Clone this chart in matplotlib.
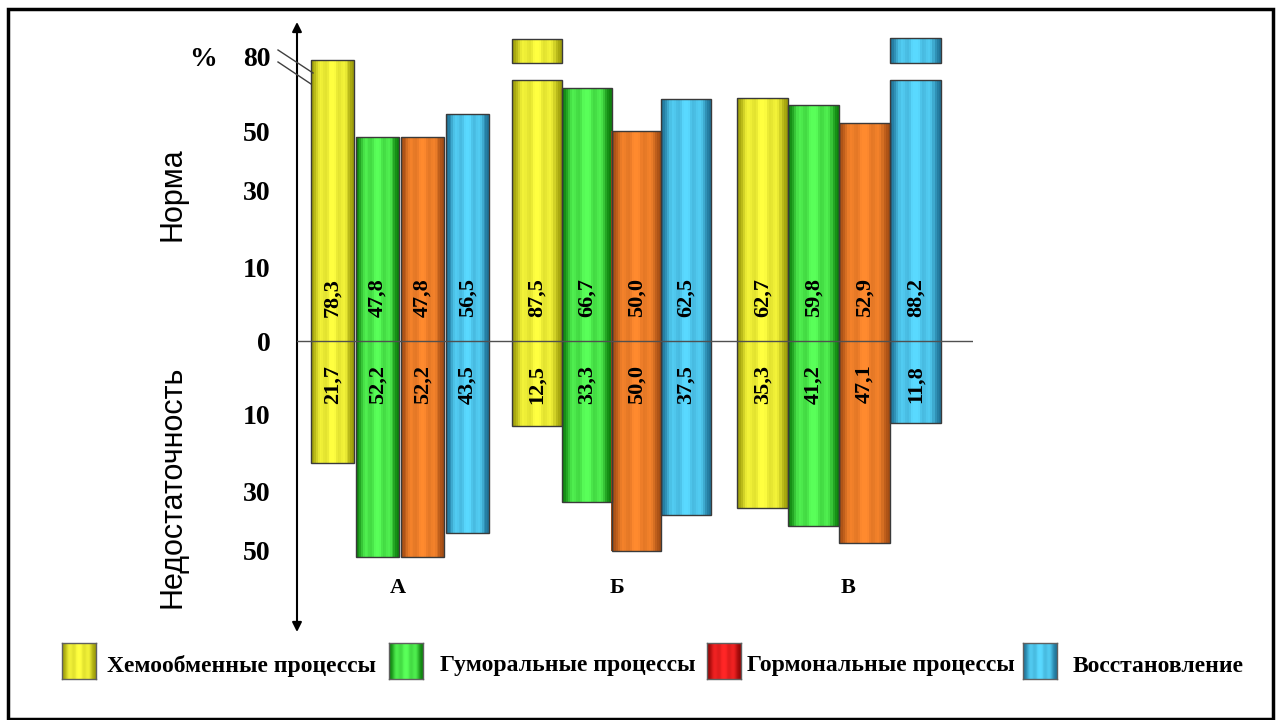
# encoding="utf-8"
# Диаграмма: соотношение нормы и недостаточности по группам А, Б, В

import matplotlib
matplotlib.use("Agg")
import matplotlib.pyplot as plt
import matplotlib.patches as mpatches
from matplotlib.lines import Line2D
import numpy as np

groups = ["А", "Б", "В"]
series = ["Хемообменные процессы", "Гуморальные процессы",
          "Гормональные процессы", "Восстановление"]
# доля "нормы", % (строки - группы, столбцы - процессы)
norma = [
    [78.3, 47.8, 47.8, 56.5],
    [87.5, 66.7, 50.0, 62.5],
    [62.7, 59.8, 52.9, 88.2],
]
# доля "недостаточности", %
nedost = [
    [21.7, 52.2, 52.2, 43.5],
    [12.5, 33.3, 50.0, 37.5],
    [35.3, 41.2, 47.1, 11.8],
]
tick_values = [-50, -30, -10, 0, 10, 30, 50, 80]

W, H = 1277, 720

# цвета "цилиндров": тёмный край / светлая середина
bar_colors = [
    ((0.55, 0.55, 0.00), (1.00, 1.00, 0.25)),
    ((0.00, 0.42, 0.00), (0.35, 1.00, 0.35)),
    ((0.58, 0.26, 0.06), (1.00, 0.54, 0.18)),
    ((0.08, 0.38, 0.52), (0.35, 0.85, 1.00)),
]
legend_colors = [
    bar_colors[0], bar_colors[1],
    ((0.50, 0.00, 0.00), (1.00, 0.15, 0.15)),
    bar_colors[3],
]

# разрыв для столбцов выше 80
BREAK_AT = 80
BREAK_LO, BREAK_HI = 70, 77

P = 0.65


def fwd(v):
    return np.sign(v) * np.abs(v) ** P


def inv(u):
    return np.sign(u) * np.abs(u) ** (1 / P)


def stripe_colors(dark, light, n):
    t = (np.arange(n) + 0.5) / n
    body = np.sin(np.pi * t) ** 0.6
    ripple = 0.14 * np.cos(2 * np.pi * 3.5 * (t - 0.5))
    k = np.clip(0.05 + 0.9 * body + ripple, 0, 1)
    dark = np.array(dark)
    light = np.array(light)
    return [tuple(dark * (1 - a) + light * a) for a in k]


def cyl_bar(ax, x, w, bottom, top, dark, light, n=24):
    cols = stripe_colors(dark, light, n)
    xs = x - w / 2 + (np.arange(n) + 0.5) * w / n
    ax.bar(xs, top - bottom, width=w / n * 1.1, bottom=bottom, color=cols,
           linewidth=0, zorder=2)
    ax.bar(x, top - bottom, width=w, bottom=bottom, fill=False,
           edgecolor="#3a3a3a", linewidth=1, zorder=3)


def fmt(v):
    return f"{v:.1f}".replace(".", ",")


fig = plt.figure(figsize=(W / 100, H / 100), dpi=100)
ax = fig.add_axes([297 / W, 1 - 632 / H, (973 - 297) / W, (632 - 22) / H])
ax.set_yscale("function", functions=(fwd, inv))
ax.set_xlim(-0.468, 2.605)
ax.set_ylim(-82.7, 95.3)

serif = "Liberation Serif"
group_pos = [0.0, 0.962, 1.996]
widths = [0.195, 0.226, 0.232]
steps = [0.205, 0.226, 0.232]

for i in range(len(groups)):
    for j in range(len(series)):
        x = group_pos[i] + (j - 1.5) * steps[i]
        w = widths[i]
        dark, light = bar_colors[j]
        up = norma[i][j]
        down = nedost[i][j]
        if up > BREAK_AT:
            cyl_bar(ax, x, w, -down, BREAK_LO, dark, light)
            cyl_bar(ax, x, w, BREAK_HI, up, dark, light)
        else:
            cyl_bar(ax, x, w, -down, up, dark, light)
        # подписи внутри столбцов
        ax.annotate(fmt(up), xy=(x, 0), xytext=(0, 31), textcoords="offset points",
                    rotation=90, ha="center", va="center", fontsize=16,
                    fontweight="bold", family=serif, zorder=6)
        ax.annotate(fmt(down), xy=(x, 0), xytext=(0, -31), textcoords="offset points",
                    rotation=90, ha="center", va="center", fontsize=16,
                    fontweight="bold", family=serif, zorder=6)

ax.axhline(0, color="#505050", lw=1, zorder=5)

# ось со стрелками в обе стороны
for s in ax.spines.values():
    s.set_visible(False)
ax.annotate("", xy=(0, 1), xytext=(0, 0), xycoords="axes fraction",
            arrowprops=dict(arrowstyle="<|-|>", color="black", lw=1.5,
                            mutation_scale=14, shrinkA=0, shrinkB=0),
            annotation_clip=False)

ax.set_xticks([])
ax.set_yticks(tick_values)
ax.set_yticklabels([str(abs(v)) for v in tick_values])
ax.tick_params(axis="y", length=0, pad=19)
for lab in ax.get_yticklabels():
    lab.set_fontfamily(serif)
    lab.set_fontweight("bold")
    lab.set_fontsize(20)

# подписи групп
label_pos = [-0.009, 0.987, 2.037]
for gx, g in zip(label_pos, groups):
    ax.text(gx, 0.072, g, transform=ax.get_xaxis_transform(), ha="center",
            va="center", fontsize=16, fontweight="bold", family=serif)

# значок разрыва оси
for (x0, y0), (x1, y1) in [((278, 50), (313, 73)), ((278, 62), (311, 84))]:
    fig.add_artist(Line2D([x0 / W, x1 / W], [1 - y0 / H, 1 - y1 / H],
                          color="#404040", lw=1))

fig.text(203 / W, 1 - 60 / H, "%", ha="center", va="center", fontsize=20,
         fontweight="bold", family=serif)
fig.text(172 / W, 1 - 194 / H, "Норма", rotation=90, ha="center", va="center",
         fontsize=22, family="Liberation Sans")
fig.text(172 / W, 1 - 487 / H, "Недостаточность", rotation=90, ha="center",
         va="center", fontsize=22, family="Liberation Sans")

# легенда
box_x = [62, 389, 707, 1023]
text_x = [107, 440, 747, 1073]
for j, name in enumerate(series):
    lax = fig.add_axes([box_x[j] / W, 1 - 679 / H, 34 / W, 36 / H])
    cols = np.array(stripe_colors(*legend_colors[j], 24))
    lax.imshow(cols[None, :, :], aspect="auto", interpolation="bilinear")
    lax.set_xticks([])
    lax.set_yticks([])
    for s in lax.spines.values():
        s.set_color("#606060")
        s.set_linewidth(1)
    fig.text(text_x[j] / W, 1 - 666 / H, name, ha="left", va="center",
             fontsize=17, fontweight="bold", family=serif)

# рамка вокруг рисунка
fig.add_artist(mpatches.Rectangle((8 / W, 1 - 719 / H), 1265 / W, 710 / H,
                                  transform=fig.transFigure, fill=False,
                                  lw=2.5, edgecolor="black"))

fig.savefig("out.png", dpi=100)
